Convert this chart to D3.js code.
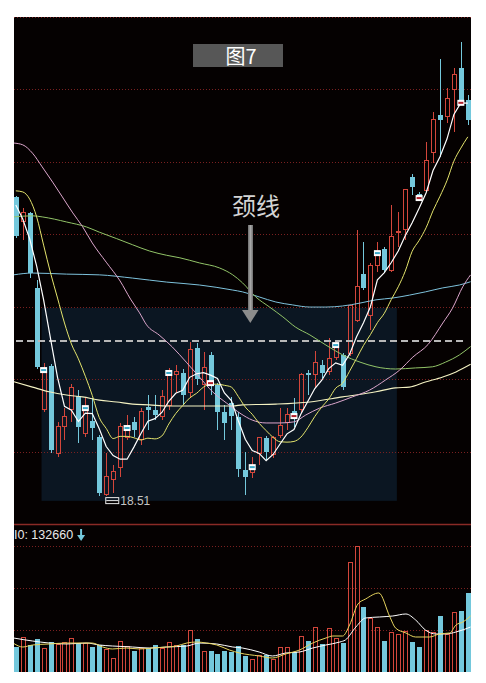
<!DOCTYPE html>
<html><head><meta charset="utf-8">
<script src="https://cdn.jsdelivr.net/npm/d3@7/dist/d3.min.js"></script>
<style>body{margin:0;background:#fff}svg{display:block}</style>
</head><body><svg id="c" width="486" height="683"></svg>
<script>
// ---------- data ----------
const opens  = [26.77,26.08,26.33,24.26,20.89,22.10,19.70,20.42,20.89,21.28,20.25,20.58,20.14,18.55,18.96,19.31,20.12,20.56,20.06,20.97,20.89,20.70,21.00,21.86,21.91,21.36,22.60,21.58,22.41,21.58,20.83,21.08,20.70,19.23,19.15,19.70,20.12,19.65,20.17,20.53,20.86,20.89,21.91,21.86,22.13,21.94,22.35,22.41,22.46,23.37,24.64,23.51,24.89,25.33,24.75,25.78,25.86,27.32,26.85,26.96,27.99,29.03,28.98,29.75,30.33,29.45];
const highs  = [26.80,26.47,26.36,24.48,22.19,22.16,20.56,20.94,21.61,21.44,21.25,21.22,20.20,19.70,19.37,20.53,20.75,20.70,20.94,21.30,21.30,21.44,22.05,22.13,22.02,22.77,22.74,22.49,22.49,21.63,21.03,21.25,20.83,19.73,19.59,20.14,20.17,20.17,20.94,20.94,21.22,21.91,21.99,22.52,22.27,22.88,22.82,22.46,23.79,25.86,25.53,24.95,25.53,25.39,26.55,26.36,27.00,27.40,26.91,28.29,29.12,30.58,29.78,30.33,31.05,29.59];
const lows   = [25.64,25.58,24.53,22.02,20.83,19.70,19.59,20.06,20.56,19.98,20.14,20.06,18.51,18.52,18.60,19.04,20.06,20.14,19.92,20.34,20.61,20.61,20.89,21.36,21.03,21.22,21.58,20.89,21.30,20.34,20.06,20.34,19.04,18.54,19.01,19.37,19.51,19.56,20.12,20.34,20.42,20.81,21.30,21.52,21.77,21.86,22.27,21.44,22.38,23.32,24.20,23.10,24.70,24.67,24.70,25.39,25.58,26.83,26.69,26.91,27.71,27.87,28.81,28.56,29.31,28.76];
const closes = [25.69,26.33,24.67,22.08,21.99,19.78,20.42,20.70,21.52,20.42,20.94,20.39,18.60,19.04,19.18,20.42,20.39,20.34,20.86,20.89,20.75,21.25,21.91,21.94,21.30,22.55,21.74,22.05,21.63,20.83,20.53,20.72,19.26,19.04,19.31,20.12,19.73,20.12,20.45,20.75,20.72,21.86,21.86,22.21,21.91,22.30,22.68,21.52,23.76,24.29,24.26,24.89,25.22,24.75,25.69,25.83,26.99,27.05,26.74,27.79,28.92,28.90,29.50,30.14,29.37,28.90];
const volumes = [60200,81000,64300,78600,54800,71400,64300,71400,78600,69000,66700,58600,64300,52400,33300,73800,61000,50000,54800,57100,64300,57100,71400,63300,63300,100000,78600,50000,50000,42900,49000,46700,61000,37100,28600,39500,40500,28600,59500,59500,47600,85700,73800,107100,66700,102400,78600,69000,261900,300000,154800,126200,104800,73800,95200,88100,96000,71400,59500,100000,95200,133300,88100,140500,145200,188100];

const ma5  = [26.55,26.16,25.61,24.86,23.93,22.85,21.79,20.99,20.88,20.57,20.80,20.79,20.37,19.88,19.63,19.53,19.53,19.87,20.24,20.58,20.65,20.82,21.13,21.35,21.43,21.79,21.89,21.92,21.85,21.76,21.36,21.15,20.59,20.08,19.77,19.69,19.49,19.66,19.95,20.23,20.35,20.78,21.13,21.48,21.71,22.03,22.19,22.12,22.43,22.91,23.30,23.74,24.48,24.68,24.96,25.28,25.70,26.06,26.46,26.88,27.50,27.88,28.37,29.05,29.37,29.36];
const ma10 = [26.94,26.91,26.71,26.22,25.44,24.67,23.98,23.29,22.71,22.30,21.82,21.29,20.68,20.38,20.10,20.16,20.16,20.12,20.06,20.11,20.09,20.17,20.50,20.79,21.01,21.22,21.35,21.52,21.60,21.60,21.57,21.52,21.26,20.97,20.77,20.52,20.32,20.13,20.01,20.00,20.02,20.14,20.40,20.71,20.97,21.19,21.49,21.63,21.96,22.31,22.67,22.97,23.30,23.56,23.94,24.29,24.72,25.27,25.57,25.92,26.39,26.79,27.22,27.76,28.12,28.43];
// longer averages: [candle index, price]
const maPink  = [[-0.3,28.26],[1,28.21],[2.4,27.98],[3.8,27.60],[5.3,27.18],[6.7,26.77],[8.2,26.33],[9.6,25.95],[11,25.50],[13,24.97],[15,24.45],[16.5,23.95],[17.8,23.57],[18.8,23.24],[20.6,22.96],[22.5,22.63],[24.6,22.19],[26.4,21.80],[28.3,21.39],[30.3,21.08],[32.4,20.78],[34,20.61],[36,20.53],[38,20.53],[40,20.56],[41.7,20.75],[43.7,20.94],[46,21.08],[48.4,21.25],[50.9,21.44],[53.2,21.72],[55.2,21.99],[57.1,22.35],[59.3,22.70],[61.4,23.29],[62.8,23.70],[64.3,24.30],[65.4,24.62]];
const maGreen = [[-0.3,26.22],[2.4,26.25],[3.8,26.22],[7.3,26.08],[10.2,25.94],[12,25.80],[14.5,25.62],[16.8,25.45],[19.2,25.28],[21.7,25.16],[23.6,25.09],[26.4,24.95],[29.3,24.81],[31.2,24.62],[32.6,24.40],[34.5,24.01],[36.5,23.73],[38.4,23.46],[40.2,23.18],[42.3,22.96],[44.6,22.68],[47,22.41],[49.5,22.21],[51.8,22.08],[54.6,22.02],[57.5,22.05],[59.9,22.08],[61.8,22.21],[63.8,22.41],[65.4,22.64]];
const maBlue  = [[-0.3,24.62],[2.4,24.67],[7.3,24.64],[12,24.62],[16.8,24.53],[21.7,24.42],[26.4,24.34],[31.2,24.20],[32.6,24.15],[35,24.01],[37.4,23.87],[39.8,23.79],[42.3,23.73],[44.6,23.73],[47,23.76],[49.5,23.84],[51.8,23.93],[54.2,23.98],[56.6,24.06],[58.9,24.15],[61.4,24.26],[63.8,24.34],[65.4,24.43]];
const maCream = [[-0.3,21.67],[2.4,21.52],[4.8,21.39],[7.3,21.30],[9.6,21.25],[12,21.16],[14.5,21.11],[16.8,21.05],[19.2,21.03],[21.7,21.00],[26.4,21.00],[31.2,21.00],[32.6,21.03],[37.4,21.05],[42.3,21.11],[47,21.25],[51.8,21.39],[54.6,21.50],[56.6,21.52],[58.9,21.66],[61.4,21.80],[63.3,21.94],[65.4,22.15]];
// volume averages: [candle index, volume]
const volMa10 = [[-0.3,80900],[2.4,73800],[4.8,69000],[7.3,66700],[10.2,69000],[12,64300],[13.9,61900],[16.8,59500],[19.2,57100],[21.7,59500],[24.6,61900],[26.4,69000],[28.9,66700],[31.2,59500],[32.6,57100],[35,47600],[36.9,38100],[38.8,45200],[40.8,47600],[42.7,57100],[44.6,64300],[46.6,71400],[47.4,76200],[48.9,107100],[50.3,128600],[52.3,131000],[54.2,133300],[56.1,138100],[57.5,123800],[58.9,100000],[60.4,90500],[61.8,90500],[63.3,95200],[65.4,107100]];
const volMa5  = [[-0.3,68000],[1,59500],[2.4,64300],[4.8,66700],[7.3,69000],[9.6,69000],[11,69000],[12.5,59500],[13.9,54800],[15.9,57100],[17.8,54800],[19.7,57100],[21.7,59500],[23.1,61900],[24.6,69000],[26,71400],[27.4,69000],[28.9,64300],[30.7,52400],[32.2,45200],[35,38100],[36.9,33300],[38.8,42900],[40.8,52400],[42.7,69000],[44.6,81000],[45.6,85700],[47,85700],[48,111900],[49.2,161900],[50.3,173800],[52.2,188100],[53.8,131000],[54.6,104800],[56.1,92900],[57.5,83300],[59.5,83300],[60.9,90500],[62.4,92900],[63.3,111900],[64.3,119000],[65.4,133300]];

const markerIdx   = [4,10,16,22,28,34,40,46,52,58,64];
const markerKind  = ["c","c","c","c","r","c","r","c","c","r","r"];
const necklinePrice = 22.79;
const zoneIdx = [3.7, 54.8];
const zonePrice = [18.38, 23.71];
const priceGrid = [19.74,21.74,23.74,25.74,27.74,29.74,31.74];
const volGrid = [100000,200000,300000];
const lowLabel = "18.51";
const lowIdx = 12;
const volLabel = "I0: 132660";
const title = "图7";
const neckText = "颈线";

// ---------- layout ----------
const W=486, H=683, L=14, R=471, T=17, B=672, MB=524;
const RED="#d3463b", CYAN="#74c8dc";
const svg=d3.select('#c');
svg.append('rect').attr('width',W).attr('height',H).attr('fill','#fff');
svg.append('rect').attr('x',L).attr('y',T).attr('width',R-L).attr('height',B-T).attr('fill','#050101');
svg.append('defs').append('clipPath').attr('id','clip').append('rect').attr('x',L).attr('y',T).attr('width',R-L).attr('height',B-T);
const g=svg.append('g').attr('clip-path','url(#clip)');

const n=opens.length;
const xc=d3.scaleLinear().domain([0,65]).range([15.8,467.8]);
const y=d3.scaleLinear().domain([17.74,31.74]).range([MB,T]);
const yv=d3.scaleLinear().domain([0,300000]).range([B,546]);

// shaded zone
g.append('rect').attr('x',xc(zoneIdx[0])).attr('width',xc(zoneIdx[1])-xc(zoneIdx[0]))
 .attr('y',y(zonePrice[1])).attr('height',y(zonePrice[0])-y(zonePrice[1])).attr('fill','#0b1622');

// grid
g.selectAll('.pg').data(priceGrid).join('line').attr('x1',L).attr('x2',R)
 .attr('y1',d=>Math.round(y(d))+0.5).attr('y2',d=>Math.round(y(d))+0.5)
 .attr('stroke','#7a2020').attr('stroke-dasharray','1,2').attr('stroke-width',1);
g.selectAll('.vg').data(volGrid).join('line').attr('x1',L).attr('x2',R)
 .attr('y1',d=>Math.round(yv(d))+0.5).attr('y2',d=>Math.round(yv(d))+0.5)
 .attr('stroke','#7a2020').attr('stroke-dasharray','1,2').attr('stroke-width',1);
g.append('line').attr('x1',L).attr('x2',R).attr('y1',MB+0.5).attr('y2',MB+0.5).attr('stroke','#8a2a26').attr('stroke-width',1.3);

// candles
const idx=d3.range(n);
const up=i=>closes[i]>=opens[i];
const cg=g.append('g').attr('shape-rendering','crispEdges');
idx.forEach(i=>{
  const cx=Math.round(xc(i))+0.5;
  const top=y(Math.max(opens[i],closes[i])), bot=y(Math.min(opens[i],closes[i]));
  const col=up(i)?RED:CYAN;
  if(up(i)){
    cg.append('line').attr('x1',cx).attr('x2',cx).attr('y1',y(highs[i])).attr('y2',top).attr('stroke',col);
    cg.append('line').attr('x1',cx).attr('x2',cx).attr('y1',bot).attr('y2',y(lows[i])).attr('stroke',col);
    cg.append('rect').attr('x',cx-2).attr('y',top).attr('width',4).attr('height',Math.max(1,bot-top)).attr('fill','none').attr('stroke',col);
  } else {
    cg.append('line').attr('x1',cx).attr('x2',cx).attr('y1',y(highs[i])).attr('y2',y(lows[i])).attr('stroke',col);
    cg.append('rect').attr('x',cx-2.5).attr('y',top).attr('width',5).attr('height',Math.max(1.5,bot-top)).attr('fill',col);
  }
});

// neckline
g.append('line').attr('x1',L+2).attr('x2',R-7).attr('y1',y(necklinePrice)).attr('y2',y(necklinePrice))
 .attr('stroke','#b8b8b8').attr('stroke-width',2).attr('stroke-dasharray','7,4');

// moving averages
const lineIdx=d3.line().x((d,i)=>xc(i)).y(d=>y(d));
const lineKn=d3.line().x(d=>xc(d[0])).y(d=>y(d[1])).curve(d3.curveMonotoneX);
g.append('path').attr('d',lineKn(maBlue)).attr('fill','none').attr('stroke','#7ec2dc').attr('stroke-width',1);
g.append('path').attr('d',lineKn(maCream)).attr('fill','none').attr('stroke','#f4f2c2').attr('stroke-width',1.1);
g.append('path').attr('d',lineKn(maGreen)).attr('fill','none').attr('stroke','#92c468').attr('stroke-width',1);
g.append('path').attr('d',lineKn(maPink)).attr('fill','none').attr('stroke','#dca6cc').attr('stroke-width',1);
g.append('path').attr('d',lineIdx.curve(d3.curveMonotoneX)(ma10)).attr('fill','none').attr('stroke','#e4e46c').attr('stroke-width',1);
g.append('path').attr('d',lineIdx.curve(d3.curveLinear)(ma5)).attr('fill','none').attr('stroke','#ffffff').attr('stroke-width',1.2);

// markers
markerIdx.forEach((i,k)=>{
  const cx=xc(i), cy=y(closes[i]);
  g.append('rect').attr('x',cx-3.5).attr('y',cy-3).attr('width',7).attr('height',6).attr('fill','#ffffff');
  g.append('rect').attr('x',cx-2.5).attr('y',cy-1).attr('width',5).attr('height',2)
   .attr('fill',markerKind[k]==='r'?'#b0202a':'#3aa8c8');
});

// lowest price label
const lx=xc(lowIdx)+6, ly=y(lows[lowIdx]);
g.append('rect').attr('x',lx+0.5).attr('y',ly+1.5).attr('width',13).attr('height',6).attr('fill','none').attr('stroke','#e8e8e8').attr('stroke-width',1);
g.append('line').attr('x1',lx+1).attr('x2',lx+13).attr('y1',ly+4.5).attr('y2',ly+4.5).attr('stroke','#e8e8e8');
g.append('text').attr('x',lx+15).attr('y',ly+9).attr('fill','#c4c4c4').attr('font-size',12)
 .attr('font-family','Liberation Sans, Arial, sans-serif').text(lowLabel);

// volume bars
const vg=g.append('g').attr('shape-rendering','crispEdges');
idx.forEach(i=>{
  const cx=Math.round(xc(i))+0.5;
  if(up(i)){
    vg.append('rect').attr('x',cx-2).attr('y',yv(volumes[i])).attr('width',4).attr('height',B-yv(volumes[i])).attr('fill','none').attr('stroke',RED);
  } else {
    vg.append('rect').attr('x',cx-2.5).attr('y',yv(volumes[i])).attr('width',5).attr('height',B-yv(volumes[i])).attr('fill',CYAN);
  }
});
const lineV=d3.line().x(d=>xc(d[0])).y(d=>yv(d[1])).curve(d3.curveMonotoneX);
g.append('path').attr('d',lineV(volMa10)).attr('fill','none').attr('stroke','#ffffff').attr('stroke-width',1);
g.append('path').attr('d',lineV(volMa5)).attr('fill','none').attr('stroke','#e6d45e').attr('stroke-width',1);

// volume label
const vt=g.append('text').attr('x',L).attr('y',539).attr('fill','#e8e8e8').attr('font-size',12.5)
 .attr('font-family','Liberation Sans, Arial, sans-serif').text(volLabel);
const ax=L+vt.node().getComputedTextLength()+8;
g.append('line').attr('x1',ax).attr('x2',ax).attr('y1',529).attr('y2',537).attr('stroke',CYAN).attr('stroke-width',2);
g.append('path').attr('d',`M${ax-4},535 L${ax+4},535 L${ax},541 Z`).attr('fill',CYAN);

// title box
svg.append('rect').attr('x',193).attr('y',44).attr('width',90).attr('height',23).attr('fill','#575757');
svg.append('text').attr('x',241).attr('y',63.5).attr('text-anchor','middle').attr('fill','#ffffff')
 .attr('font-size',20).attr('font-family','Noto Sans CJK SC, sans-serif').text(title);

// neckline annotation
svg.append('text').attr('x',256).attr('y',215).attr('text-anchor','middle').attr('fill','#d4d4d4')
 .attr('font-size',24).attr('font-family','Noto Sans CJK SC, sans-serif').text(neckText);
const grad=svg.select('defs').append('linearGradient').attr('id','ag');
grad.append('stop').attr('offset','0%').attr('stop-color','#6e6e6e');
grad.append('stop').attr('offset','50%').attr('stop-color','#a8a8a8');
grad.append('stop').attr('offset','100%').attr('stop-color','#6e6e6e');
svg.append('rect').attr('x',248).attr('y',225).attr('width',5).attr('height',86).attr('fill','url(#ag)');
svg.append('path').attr('d','M242,310 L258.5,310 L250.3,323 Z').attr('fill','#8c8c8c');
</script></body></html>
